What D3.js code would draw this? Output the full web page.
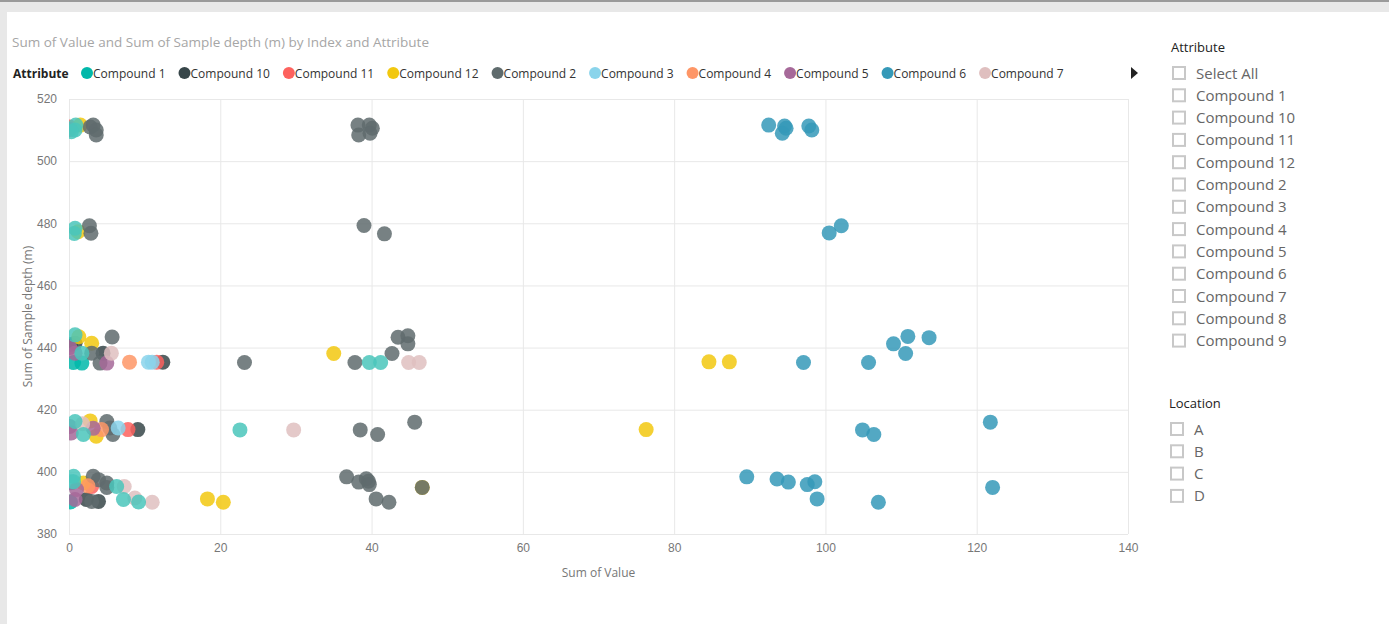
<!DOCTYPE html>
<html>
<head>
<meta charset="utf-8">
<script src="https://cdn.jsdelivr.net/npm/d3@7"></script>
<style>
  body { margin: 0; background: #fff; overflow: hidden; }
  svg { display: block; font-family: "Segoe UI", "Open Sans", sans-serif; }
</style>
</head>
<body>
<svg width="1389" height="624"></svg>
<script>
// [Sum of Value, Sum of Sample depth (m)] per attribute
const compound1 = [[1.7, 435.0], [0.6, 435.2], [0.2, 441.0], [0.2, 390.3], [0.3, 396.5]]
const compound10 = [[0.8, 441.4], [4.5, 438.2], [12.4, 435.3], [9.1, 413.6], [3.9, 390.5], [2.3, 391.1]]
const compound11 = [[11.6, 435.3], [7.8, 413.6], [3.0, 395.3], [0.1, 511.0]]
const compound12 = [[1.3, 443.5], [3.0, 441.4], [2.8, 416.4], [3.6, 411.5], [1.9, 396.4], [1.5, 511.6],
  [1.2, 477.3], [35.0, 438.1], [18.3, 391.3], [20.4, 390.2], [76.3, 413.6], [84.6, 435.4], [87.3, 435.4], [46.7, 395.0]]
const compound2 = [[3.2, 511.6], [2.8, 511.0], [3.6, 510.0], [3.6, 508.4], [2.7, 479.2], [2.9, 476.8],
  [38.2, 511.6], [38.3, 508.4], [39.7, 511.6], [40.1, 510.6], [39.8, 509.0], [39.0, 479.3], [41.7, 476.6],
  [5.7, 443.4], [3.0, 438.2], [4.1, 435.0], [23.2, 435.2], [37.8, 435.2], [42.7, 438.1], [43.5, 443.3],
  [44.8, 443.8], [44.8, 441.2], [5.0, 416.2], [5.4, 414.1], [5.8, 412.0], [38.5, 413.5], [40.8, 412.0],
  [45.7, 416.0], [3.2, 398.6], [3.9, 397.5], [5.0, 396.4], [5.0, 395.0], [3.0, 390.5], [36.7, 398.4],
  [38.3, 396.7], [39.3, 397.8], [39.6, 397.0], [39.7, 395.9], [40.6, 391.3], [42.3, 390.2], [46.7, 395.0]]
const compound3 = [[10.5, 435.3], [11.0, 435.3], [6.5, 414.1], [0.3, 397.0]]
const compound4 = [[8.0, 435.3], [4.3, 413.6], [2.5, 395.5]]
const compound5 = [[0.8, 438.2], [5.0, 435.0], [0.1, 414.6], [0.3, 412.5], [3.2, 414.0], [1.0, 394.3],
  [0.8, 391.1], [0.1, 510.2], [0.1, 440.0]]
const compound6 = [[92.5, 511.6], [94.6, 511.3], [94.8, 510.6], [94.3, 509.0], [97.8, 511.3], [98.2, 510.0],
  [100.5, 476.9], [102.1, 479.2], [97.1, 435.2], [105.7, 435.2], [109.0, 441.2], [110.9, 443.6],
  [110.6, 438.1], [113.7, 443.2], [104.9, 413.5], [106.4, 412.0], [121.8, 416.0], [89.6, 398.4],
  [93.6, 397.7], [95.1, 396.7], [97.6, 395.9], [98.6, 396.8], [98.9, 391.3], [107.0, 390.2], [122.1, 395.0]]
const compound7 = [[5.6, 438.2], [44.9, 435.2], [46.3, 435.2], [29.7, 413.5], [7.3, 395.3], [8.7, 391.6],
  [11.0, 390.2], [1.8, 415.5]]
const compound8 = [[0.8, 510.0], [0.9, 511.6], [0.3, 509.5], [0.8, 478.4], [0.7, 476.7], [0.8, 444.1],
  [1.7, 438.2], [39.7, 435.2], [41.2, 435.2], [0.8, 416.2], [1.9, 412.0], [22.6, 413.5], [0.6, 398.6],
  [0.6, 396.8], [6.3, 395.3], [7.2, 391.1], [9.2, 390.3]]
const compound9 = []

const attributes = ['Compound 1', 'Compound 10', 'Compound 11', 'Compound 12', 'Compound 2', 'Compound 3',
  'Compound 4', 'Compound 5', 'Compound 6', 'Compound 7', 'Compound 8', 'Compound 9']
const seriesValues = [compound1, compound10, compound11, compound12, compound2, compound3,
  compound4, compound5, compound6, compound7, compound8, compound9]
const colors = ['#01B8AA', '#374649', '#FD625E', '#F2C80F', '#5F6B6D', '#8AD4EB',
  '#FE9666', '#A66999', '#3599B8', '#DFBFBF', '#4AC5BB', '#5F6B6D']
const legendCount = 10

const xTicks = [0, 20, 40, 60, 80, 100, 120, 140]
const yTicks = [380, 400, 420, 440, 460, 480, 500, 520]
const slicerOrder = ['Select All'].concat(attributes)
const locations = ['A', 'B', 'C', 'D']

const svg = d3.select('svg')

// report frame
svg.append('rect').attr('width', 1389).attr('height', 624).attr('fill', '#e8e8e8')
svg.append('rect').attr('width', 1389).attr('height', 2).attr('fill', '#9a9a9a')
svg.append('rect').attr('x', 7).attr('y', 12).attr('width', 1382).attr('height', 612).attr('fill', '#fff')

const plot = { left: 69, right: 1128, top: 99, bottom: 534 }
const x = d3.scaleLinear().domain([0, 140]).range([plot.left, plot.right])
const y = d3.scaleLinear().domain([380, 520]).range([plot.bottom, plot.top])

svg.append('text')
  .attr('x', 12).attr('y', 47)
  .attr('fill', '#a6a6a6').attr('font-size', 13.5)
  .text('Sum of Value and Sum of Sample depth (m) by Index and Attribute')

// legend
const legend = svg.append('g').attr('transform', 'translate(0,73)')
legend.append('text').attr('x', 13).attr('y', 4.5)
  .attr('font-size', 12).attr('font-weight', 'bold').attr('fill', '#222').text('Attribute')
let lx = 87
attributes.slice(0, legendCount).forEach((name, i) => {
  legend.append('circle').attr('cx', lx).attr('r', 6).attr('fill', colors[i])
  const t = legend.append('text').attr('x', lx + 6).attr('y', 4.5)
    .attr('font-size', 12).attr('fill', '#333').text(name)
  lx += 6 + t.node().getComputedTextLength() + 19
})
legend.append('path').attr('d', 'M1131,-6L1138,0L1131,6Z').attr('fill', '#222')

// axes and grid
const gx = svg.append('g').attr('transform', `translate(0,${plot.bottom})`)
  .call(d3.axisBottom(x).tickValues(xTicks).tickSize(-(plot.bottom - plot.top)).tickPadding(9))
const gy = svg.append('g').attr('transform', `translate(${plot.left},0)`)
  .call(d3.axisLeft(y).tickValues(yTicks).tickSize(-(plot.right - plot.left)).tickPadding(12))
;[gx, gy].forEach(g => {
  g.select('.domain').remove()
  g.selectAll('line').attr('stroke', '#e8e8e8')
  g.selectAll('text').attr('fill', '#777').attr('font-size', 12).attr('font-family', null)
})

svg.append('text').attr('x', (plot.left + plot.right) / 2).attr('y', 577)
  .attr('text-anchor', 'middle').attr('font-size', 12).attr('fill', '#777').text('Sum of Value')
svg.append('text').attr('transform', `translate(32,${(plot.top + plot.bottom) / 2}) rotate(-90)`)
  .attr('text-anchor', 'middle').attr('font-size', 12).attr('fill', '#777').text('Sum of Sample depth (m)')

// points
svg.append('clipPath').attr('id', 'plot-clip').append('rect')
  .attr('x', plot.left).attr('y', plot.top - 10)
  .attr('width', plot.right - plot.left).attr('height', plot.bottom - plot.top + 10)
const marks = svg.append('g').attr('clip-path', 'url(#plot-clip)')
seriesValues.forEach((points, i) => {
  marks.selectAll(null).data(points).enter().append('circle')
    .attr('cx', d => x(d[0])).attr('cy', d => y(d[1])).attr('r', 7.5)
    .attr('fill', colors[i]).attr('fill-opacity', 0.85)
})

// slicers
function slicer (title, items, left, top) {
  const g = svg.append('g')
  g.append('text').attr('x', left).attr('y', top).attr('font-size', 13).attr('fill', '#222').text(title)
  items.forEach((item, i) => {
    const cy = top + 21 + i * 22.3
    g.append('rect').attr('x', left + 2).attr('y', cy - 6).attr('width', 12).attr('height', 12)
      .attr('fill', '#fff').attr('stroke', '#c8c8c8').attr('stroke-width', 2)
    g.append('text').attr('x', left + 25).attr('y', cy + 5.5).attr('font-size', 15)
      .attr('fill', '#666').text(item)
  })
}
slicer('Attribute', slicerOrder, 1171, 52)
slicer('Location', locations, 1169, 408)
</script>
</body>
</html>
